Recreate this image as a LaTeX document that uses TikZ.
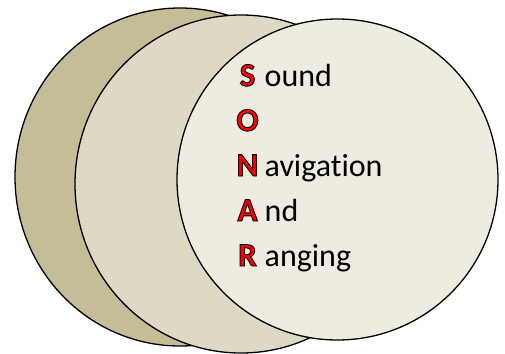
\documentclass[tikz,border=0pt]{standalone}
\usepackage{fontspec}
\setmainfont[Ligatures=NoCommon]{Carlito}
\definecolor{tanDark}{HTML}{C4BD97}
\definecolor{tanMid}{HTML}{DDD9C3}
\definecolor{tanLight}{HTML}{EEECE1}
\definecolor{initRed}{HTML}{FF0000}
\tikzset{
  disc/.style={draw=black, line width=1.3pt},
  initial/.style={anchor=base, inner sep=0pt, font=\fontsize{33}{38}\selectfont\bfseries},
  rest/.style={anchor=base west, inner sep=0pt, font=\fontsize{32}{36}\selectfont}
}
% red letter with a thin black outline (text render mode 2: fill and stroke)
\newcommand{\initialletter}[1]{\textcolor{initRed}{%
  \special{pdf:literal 2 Tr 0.9 w 0 0 0 RG}#1\special{pdf:literal 0 Tr}}}
\begin{document}
\begin{tikzpicture}[x=1pt, y=-1pt]
  \useasboundingbox (0,0) rectangle (505,353);
  % three overlapping discs, back to front
  \draw[disc, fill=tanDark]  (180,177) ellipse [x radius=165, y radius=169];
  \draw[disc, fill=tanMid]   (241,184) ellipse [x radius=166, y radius=169];
  \draw[disc, fill=tanLight] (337.5,179.5) ellipse [x radius=160.5, y radius=160.5];
  % acronym letters
  \node[initial] (s) at (247.5,86)  {\initialletter{S}};
  \node[initial] (o) at (247.5,131) {\initialletter{O}};
  \node[initial] (n) at (247.5,176) {\initialletter{N}};
  \node[initial] (a) at (247.5,221) {\initialletter{A}};
  \node[initial] (r) at (247.5,266) {\initialletter{R}};
  % remaining parts of the words
  \node[rest] (sw) at (264.5,86)  {ound};
  \node[rest] (nw) at (264.5,176) {avigation};
  \node[rest] (aw) at (264.5,221) {nd};
  \node[rest] (rw) at (264.5,266) {anging};
\end{tikzpicture}
\end{document}
